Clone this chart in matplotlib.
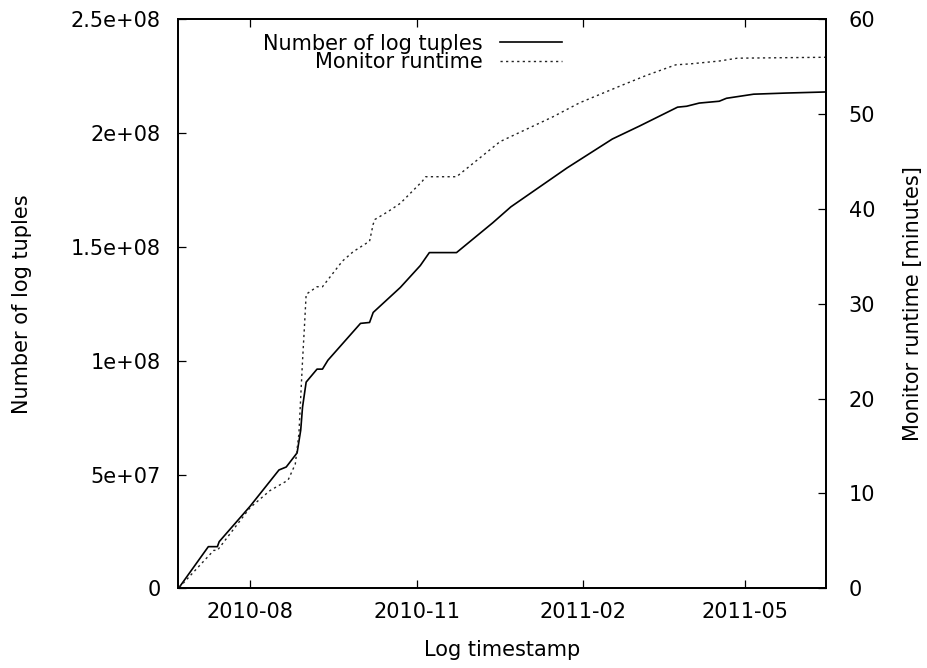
import numpy as np
import pandas as pd
import matplotlib
matplotlib.use("Agg")
import matplotlib.pyplot as plt
import matplotlib.dates as mdates
from matplotlib.ticker import FuncFormatter, MultipleLocator

# cumulative number of log tuples over time
tuple_dates = [
    "2010-06-23", "2010-07-09", "2010-07-14", "2010-07-15", "2010-08-01",
    "2010-08-17", "2010-08-21", "2010-08-27", "2010-08-29", "2010-08-30",
    "2010-09-01", "2010-09-07", "2010-09-10", "2010-09-13", "2010-10-01",
    "2010-10-06", "2010-10-08", "2010-10-23", "2010-11-03", "2010-11-08",
    "2010-11-23", "2010-12-13", "2010-12-23", "2011-01-23", "2011-02-17",
    "2011-03-04", "2011-03-25", "2011-03-30", "2011-04-06", "2011-04-17",
    "2011-04-21", "2011-05-06", "2011-05-24", "2011-06-16",
]
tuple_counts = [
    0.5e6, 18.3e6, 18.3e6, 20.5e6, 36.0e6,
    52.0e6, 53.3e6, 59.5e6, 69.5e6, 79.6e6,
    90.6e6, 96.3e6, 96.3e6, 100.2e6, 116.4e6,
    116.8e6, 121.2e6, 132.2e6, 141.8e6, 147.5e6,
    147.5e6, 160.6e6, 167.6e6, 184.7e6, 197.4e6,
    203.1e6, 211.4e6, 211.8e6, 213.2e6, 214.0e6,
    215.3e6, 217.1e6, 217.6e6, 218.1e6,
]

# cumulative monitor runtime in minutes
runtime_dates = [
    "2010-06-23", "2010-07-12", "2010-07-14", "2010-08-01", "2010-08-12",
    "2010-08-22", "2010-08-26", "2010-08-28", "2010-08-30", "2010-08-31",
    "2010-09-01", "2010-09-07", "2010-09-10", "2010-09-21", "2010-09-27",
    "2010-10-06", "2010-10-08", "2010-10-09", "2010-10-16", "2010-10-23",
    "2010-11-04", "2010-11-06", "2010-11-23", "2010-12-17", "2011-01-15",
    "2011-01-30", "2011-02-23", "2011-03-08", "2011-03-24", "2011-04-01",
    "2011-04-17", "2011-04-27", "2011-06-16",
]
runtime_minutes = [
    0.1, 4.0, 4.0, 8.5, 10.3,
    11.4, 13.1, 16.3, 24.0, 27.4,
    31.0, 31.8, 31.8, 34.5, 35.5,
    36.6, 38.4, 38.9, 39.7, 40.6,
    42.9, 43.4, 43.4, 47.1, 49.7,
    51.2, 53.1, 54.1, 55.2, 55.3,
    55.6, 55.9, 56.0,
]

plt.rcParams["font.family"] = ["DejaVu Sans"]
plt.rcParams["font.size"] = 15

fig = plt.figure(figsize=(9.28, 6.68), dpi=100)
ax = fig.add_axes([0.1913, 0.1193, 0.6993, 0.8518])
ax2 = ax.twinx()

l1, = ax.plot(pd.to_datetime(tuple_dates), tuple_counts, color="black",
              lw=1.2, label="Number of log tuples")
l2, = ax2.plot(pd.to_datetime(runtime_dates), runtime_minutes, color="#222222",
               lw=1.0, linestyle=(0, (1.6, 2.4)), label="Monitor runtime")

ax.set_xlim(pd.Timestamp("2010-06-22"), pd.Timestamp("2011-06-15 05:00"))
ax.set_ylim(0, 2.5e8)
ax2.set_ylim(0, 60)

ax.xaxis.set_major_locator(mdates.MonthLocator(bymonth=[2, 5, 8, 11]))
ax.xaxis.set_major_formatter(mdates.DateFormatter("%Y-%m"))
ax.yaxis.set_major_locator(MultipleLocator(5e7))
ax.yaxis.set_major_formatter(FuncFormatter(lambda v, p: "%g" % v))
ax2.yaxis.set_major_locator(MultipleLocator(10))

ax.tick_params(axis="x", direction="in", length=6, width=0.9, top=True, pad=10)
ax.tick_params(axis="y", direction="in", length=6, width=0.9, pad=12)
ax2.tick_params(axis="y", direction="in", length=6, width=0.9, pad=16)

for a in (ax, ax2):
    for s in a.spines.values():
        s.set_linewidth(1.3)

ax.set_xlabel("Log timestamp", labelpad=13)
ax.set_ylabel("Number of log tuples", labelpad=28)
ax2.set_ylabel("Monitor runtime [minutes]", labelpad=20)

leg = ax.legend(handles=[l1, l2], loc="upper right", bbox_to_anchor=(0.612, 0.997),
                frameon=False, markerfirst=False, handlelength=3.0,
                handletextpad=0.8, labelspacing=-0.05, borderaxespad=0.2)

fig.savefig("out.png", dpi=100)
